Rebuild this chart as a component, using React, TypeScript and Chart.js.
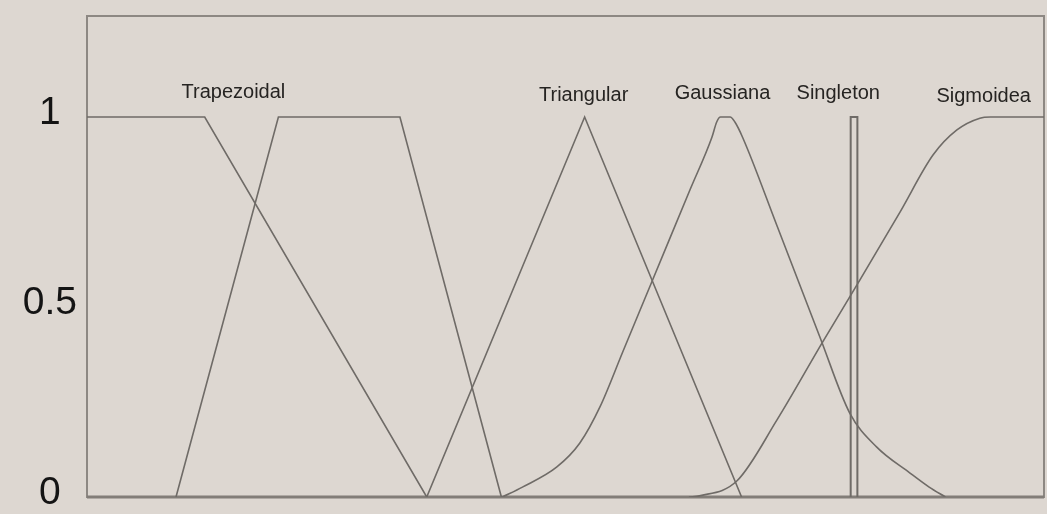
import React, { useEffect, useRef } from "react";
import { Chart, registerables } from "chart.js";

Chart.register(...registerables);

// Membership functions on a 0..100 universe, degree 0..1
const trapezoidalA: [number, number][] = [
  [0, 1], [12.3, 1], [35.5, 0],
];
const trapezoidalB: [number, number][] = [
  [9.3, 0], [20.0, 1], [32.7, 1], [43.3, 0],
];
const triangular: [number, number][] = [
  [35.5, 0], [52.0, 1], [68.4, 0],
];
const gaussiana: [number, number][] = [
  [43.4, 0], [45.5, 0.026], [49.1, 0.079], [51.5, 0.142], [53.6, 0.237],
  [56.0, 0.383], [59.1, 0.571], [63.0, 0.808], [65.3, 0.947], [65.8, 0.987],
  [66.2, 1], [66.7, 1], [67.2, 1], [67.7, 0.987], [68.5, 0.947],
  [72.1, 0.714], [76.6, 0.42], [79.7, 0.221], [82.5, 0.132], [86.0, 0.063],
  [88.0, 0.026], [89.7, 0],
];
const singleton: [number, number][] = [
  [79.8, 0], [79.8, 1], [80.5, 1], [80.5, 0],
];
const sigmoidea: [number, number][] = [
  [62.9, 0], [64.0, 0.003], [67.9, 0.042], [72.1, 0.203], [76.8, 0.405],
  [80.8, 0.573], [85.0, 0.752], [88.4, 0.9], [90.9, 0.966], [93.3, 0.997],
  [94.4, 1], [100, 1],
];

const curveNames = ["Trapezoidal", "Triangular", "Gaussiana", "Singleton", "Sigmoidea"];
const nameX = [15.3, 51.9, 66.4, 78.5, 93.7];
const nameY = [1.066, 1.058, 1.063, 1.063, 1.055];

const yTicks = [0, 0.5, 1];

const BG = "#ddd7d1";
const LINE = "#6f6b67";
const FRAME = "#8d8883";

const toPoints = (pts: [number, number][]) => pts.map(([x, y]) => ({ x, y }));

const framePlugin = {
  id: "frame",
  beforeDraw(chart: any) {
    const { ctx, width, height } = chart;
    ctx.save();
    ctx.fillStyle = BG;
    ctx.fillRect(0, 0, width, height);
    ctx.restore();
  },
  beforeDatasetsDraw(chart: any) {
    const { ctx, chartArea: a } = chart;
    ctx.save();
    ctx.strokeStyle = FRAME;
    ctx.lineWidth = 2;
    ctx.strokeRect(a.left, a.top, a.right - a.left, a.bottom - a.top);
    ctx.strokeStyle = "#827d78";
    ctx.lineWidth = 3;
    ctx.beginPath();
    ctx.moveTo(a.left, a.bottom);
    ctx.lineTo(a.right, a.bottom);
    ctx.stroke();
    ctx.restore();
  },
};

const namesPlugin = {
  id: "curveNames",
  afterDatasetsDraw(chart: any) {
    const { ctx, scales } = chart;
    ctx.save();
    ctx.font = '20px "Liberation Sans", Arial, sans-serif';
    ctx.fillStyle = "#262422";
    ctx.textAlign = "center";
    ctx.textBaseline = "middle";
    curveNames.forEach((n, i) => {
      ctx.fillText(n, scales.x.getPixelForValue(nameX[i]), scales.y.getPixelForValue(nameY[i]));
    });
    ctx.restore();
  },
};

export default function App() {
  const ref = useRef<HTMLCanvasElement | null>(null);

  useEffect(() => {
    document.body.style.margin = "0";
    document.body.style.background = BG;
    if (!ref.current) return;
    const line = (data: [number, number][], smooth = false, width = 1.6) => ({
      data: toPoints(data),
      borderColor: LINE,
      borderWidth: width,
      pointRadius: 0,
      fill: false,
      cubicInterpolationMode: smooth ? ("monotone" as const) : ("default" as const),
      tension: 0,
    });
    const chart = new Chart(ref.current, {
      type: "line",
      data: {
        datasets: [
          line(trapezoidalA),
          line(trapezoidalB),
          line(triangular),
          line(gaussiana, true),
          line(singleton, false, 2),
          line(sigmoidea, true),
        ],
      },
      options: {
        animation: false,
        responsive: false,
        layout: { padding: { left: 0, right: 3, top: 16, bottom: 17 } },
        plugins: { legend: { display: false }, tooltip: { enabled: false } },
        scales: {
          x: { type: "linear", min: 0, max: 100, display: false },
          y: {
            type: "linear",
            min: 0,
            max: 1.266,
            grid: { display: false, drawTicks: false },
            border: { display: false },
            afterBuildTicks: (s: any) => {
              s.ticks = yTicks.map((v) => ({ value: v }));
            },
            afterFit: (s: any) => {
              s.width = 87;
              s.paddingTop = 0;
              s.paddingBottom = 0;
            },
            ticks: {
              crossAlign: "center",
              padding: 10,
              labelOffset: -4,
              color: "#141414",
              font: { family: '"Liberation Sans", Arial, sans-serif', size: 39 },
              callback: (v: any) => String(v),
            },
          },
        },
      },
      plugins: [framePlugin, namesPlugin],
    });
    return () => chart.destroy();
  }, []);

  return <canvas ref={ref} width={1047} height={514} style={{ display: "block" }} />;
}
